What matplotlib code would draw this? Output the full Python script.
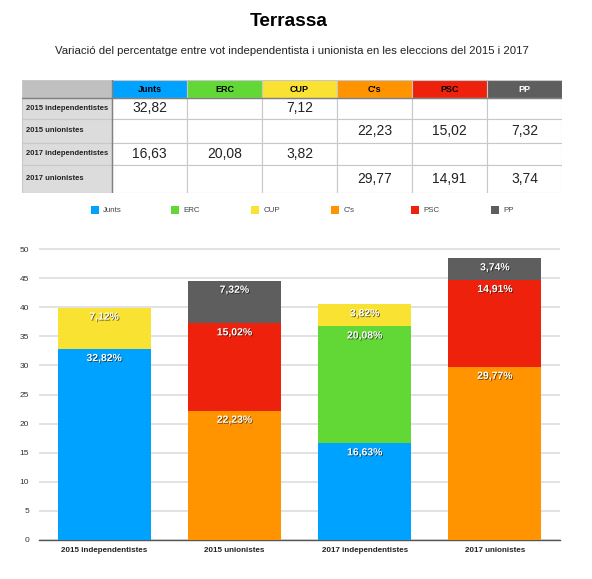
import matplotlib
matplotlib.use("Agg")
import matplotlib.pyplot as plt
import matplotlib.patheffects as pe
from matplotlib.patches import Rectangle
import numpy as np

plt.rcParams['font.family'] = ['Liberation Sans', 'DejaVu Sans']

# ---------------- data ----------------
title = "Terrassa"
subtitle = "Variació del percentatge entre vot independentista i unionista en les eleccions del 2015 i 2017"
categories = ["2015 independentistes", "2015 unionistes", "2017 independentistes", "2017 unionistes"]
parties = ["Junts", "ERC", "CUP", "C's", "PSC", "PP"]
colors = ["#00A2FF", "#61D836", "#FAE232", "#FF9300", "#EE220C", "#5E5E5E"]
junts = [32.82, None, 16.63, None]
erc = [None, None, 20.08, None]
cup = [7.12, None, 3.82, None]
cs = [None, 22.23, None, 29.77]
psc = [None, 15.02, None, 14.91]
pp = [None, 7.32, None, 3.74]
series = [junts, erc, cup, cs, psc, pp]
yticks = [0, 5, 10, 15, 20, 25, 30, 35, 40, 45, 50]

W, H = 592, 579
fig = plt.figure(figsize=(W / 100, H / 100), dpi=100)
fig.patch.set_facecolor("white")

def fx(px):
    return px / W

def fy(py):
    return 1 - py / H

fig.text(fx(289), fy(21), title, ha="center", va="center", fontsize=13.7, fontweight="bold")
fig.text(fx(292), fy(51), subtitle, ha="center", va="center", fontsize=8.2, color="#222222")

# ---------------- table ----------------
col_w = [90] + [75] * 6
row_h = [18, 21, 24, 22, 28]
col_edges = np.concatenate([[0], np.cumsum(col_w)])
row_edges = np.concatenate([[0], np.cumsum(row_h)])
tx0, ty0 = 22, 80
tax = fig.add_axes([fx(tx0), fy(ty0 + row_edges[-1]), col_edges[-1] / W, row_edges[-1] / H])
tax.set_xlim(0, col_edges[-1])
tax.set_ylim(row_edges[-1], 0)
tax.axis("off")

for r in range(len(row_h)):
    for c in range(len(col_w)):
        x0, x1 = col_edges[c], col_edges[c + 1]
        y0, y1 = row_edges[r], row_edges[r + 1]
        if r == 0 and c == 0:
            fc = "#C0C0C0"
        elif r == 0:
            fc = colors[c - 1]
        elif c == 0:
            fc = "#DCDCDC"
        else:
            fc = "white"
        tax.add_patch(Rectangle((x0, y0), x1 - x0, y1 - y0, facecolor=fc,
                                edgecolor="#C8C8C8", linewidth=0.8))
        cx, cy = (x0 + x1) / 2, (y0 + y1) / 2
        if r == 0 and c > 0:
            tcol = "white" if parties[c - 1] == "PP" else "black"
            tax.text(cx, cy, parties[c - 1], ha="center", va="center", fontsize=6.5,
                     fontweight="bold", color=tcol)
        elif r > 0 and c == 0:
            tax.text(x0 + 4, cy, categories[r - 1], ha="left", va="center", fontsize=5.5,
                     fontweight="bold", color="#222222")
        elif r > 0 and c > 0:
            v = series[c - 1][r - 1]
            if v is not None:
                tax.text(cx, cy, f"{v:.2f}".replace(".", ","), ha="center", va="center",
                         fontsize=10, color="#222222")
# darker separators
tax.plot([col_edges[1], col_edges[1]], [0, row_edges[-1]], color="#808080", lw=1)
tax.plot([0, col_edges[-1]], [row_edges[1], row_edges[1]], color="#808080", lw=1)

# ---------------- legend ----------------
lax = fig.add_axes([fx(60), fy(220), fx(480), 18 / H])
lax.set_xlim(-0.5, 5.5)
lax.set_ylim(-1, 1)
lax.axis("off")
for i, (p, col) in enumerate(zip(parties, colors)):
    lax.scatter([i - 0.06], [0.1], marker="s", s=28, color=col, linewidths=0)
    lax.text(i + 0.04, 0.1, p, ha="left", va="center", fontsize=5.7, color="#444444")

# ---------------- bar chart ----------------
ymax = 51
ax = fig.add_axes([fx(39), fy(540), fx(521), (291 * ymax / 50) / H])
x = np.arange(len(categories))
bottom = np.zeros(len(categories))
for vals, col in zip(series, colors):
    v = np.array([0 if a is None else a for a in vals])
    ax.bar(x, v, bottom=bottom, width=0.715, color=col, edgecolor="none", zorder=3)
    for i, a in enumerate(vals):
        if a is not None:
            top = bottom[i] + a
            t = ax.annotate(f"{a:.2f}%".replace(".", ","), (x[i], top), xytext=(0, -3),
                            textcoords="offset points", ha="center", va="top",
                            fontsize=7.5, color="white", fontweight="bold", zorder=5)
            t.set_path_effects([pe.withSimplePatchShadow(offset=(0.6, -0.6),
                                                         shadow_rgbFace="black", alpha=0.6)])
    bottom += v

ax.set_xlim(-0.5, 3.5)
ax.set_ylim(0, ymax)
ax.set_yticks(yticks)
ax.set_yticklabels([str(t) for t in yticks], fontsize=6, color="#333333")
ax.set_xticks(x)
ax.set_xticklabels(categories, fontsize=5.8, fontweight="bold", color="#222222")
ax.tick_params(axis="both", length=0, pad=5)
ax.tick_params(axis="y", pad=7)
for s in ["left", "right", "top"]:
    ax.spines[s].set_visible(False)
ax.spines["bottom"].set_color("#555555")
ax.spines["bottom"].set_linewidth(1)
ax.yaxis.grid(True, color="#DDDDDD", linewidth=1.2, zorder=0)
ax.set_axisbelow(True)

fig.savefig("out.png", dpi=100, facecolor="white")
